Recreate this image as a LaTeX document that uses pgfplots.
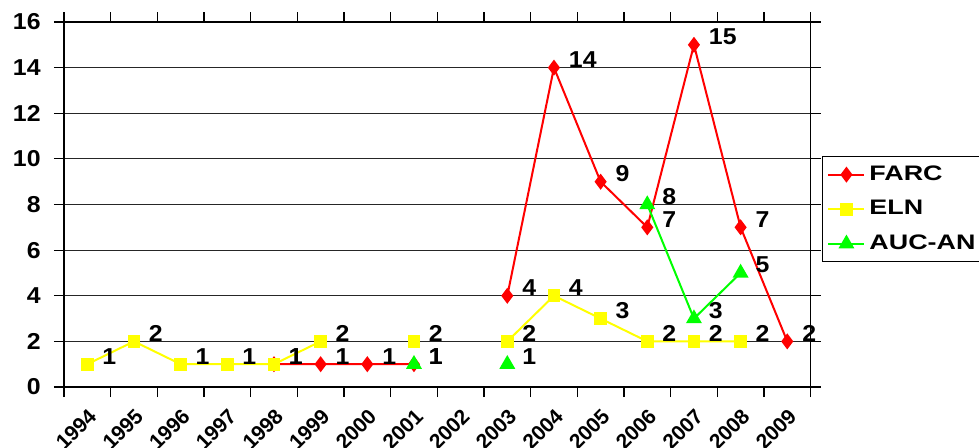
\documentclass[border=0pt]{standalone}
\usepackage{pgfplots}
\pgfplotsset{compat=1.18}
\usepackage{graphicx}
\usepackage{fontspec}
\setmainfont{Liberation Sans}
\definecolor{farc}{RGB}{255,0,0}
\definecolor{eln}{RGB}{255,255,0}
\definecolor{auc}{RGB}{0,255,0}
% the source picture was stretched sideways a little, so the text is too
\newcommand{\wide}[1]{\scalebox{1.08}[1]{#1}}

\begin{document}
\begin{tikzpicture}
\begin{axis}[
    scale only axis,
    width=373.3pt, height=182.5pt,
    at={(0,0)}, anchor=south west,
    xmin=-0.5, xmax=15.5, ymin=0, ymax=16,
    xtick={-0.5,0.5,...,15.5},
    x tick label as interval,
    xticklabels={1994,1995,1996,1997,1998,1999,2000,2001,2002,2003,2004,2005,2006,2007,2008,2009},
    xticklabel style={yshift=-5pt, rotate=45, anchor=north east, inner sep=0pt,
        font=\fontsize{10.5}{12}\selectfont\bfseries},
    ytick={0,2,...,16},
    yticklabel={\wide{\pgfmathprintnumber{\tick}}},
    yticklabel style={font=\fontsize{11.5}{13}\selectfont\bfseries, inner sep=0pt, xshift=-6.5pt},
    /pgf/number format/assume math mode=true,
    tick align=outside, major tick length=5pt,
    tick style={black, line width=0.6pt},
    ymajorgrids, grid style={black!85, line width=0.5pt},
    axis line style={black, line width=0.7pt},
    unbounded coords=jump,
    clip=false,
    nodes near coords={\wide{\pgfmathprintnumber{\pgfplotspointmeta}}},
    every node near coord/.append style={anchor=west, xshift=7pt, yshift=4pt, inner sep=0pt, text=black,
        font=\fontsize{11.5}{13}\selectfont\bfseries},
    legend style={at={(1.0152,0.632)}, anchor=north west, draw=black, line width=0.5pt,
        font=\fontsize{10.5}{12}\selectfont\bfseries, row sep=4.5pt, inner sep=2.5pt},
    legend cell align=left,
    legend image code/.code={\draw[mark repeat=2, mark phase=2] plot coordinates {(0pt,0pt)(9pt,0pt)(18pt,0pt)};},
]
\addplot[farc, line width=1pt, mark=diamond*, mark size=3.2pt, mark options={fill=farc, draw=farc}]
    coordinates {(4,1)(5,1)(6,1)(7,1)(8,nan)(9,4)(10,14)(11,9)(12,7)(13,15)(14,7)(15,2)};
\addlegendentry{\scalebox{1.28}[1]{FARC}}
\addplot[eln, line width=1pt, mark=square*, mark size=2.7pt, mark options={fill=eln, draw=eln}]
    coordinates {(0,1)(1,2)(2,1)(3,1)(4,1)(5,2)(6,nan)(7,2)(8,nan)(9,2)(10,4)(11,3)(12,2)(13,2)(14,2)};
\addlegendentry{\scalebox{1.28}[1]{ELN}}
\addplot[auc, line width=1pt, mark=triangle*, mark size=3.6pt, mark options={fill=auc, draw=auc}]
    coordinates {(7,1)(8,nan)(9,1)(10,nan)(12,8)(13,3)(14,5)};
\addlegendentry{\scalebox{1.28}[1]{AUC-AN}}
\end{axis}
\pgfresetboundingbox
\path[use as bounding box] (-32pt,-30pt) rectangle (457.5pt,193.5pt);
\end{tikzpicture}
\end{document}
